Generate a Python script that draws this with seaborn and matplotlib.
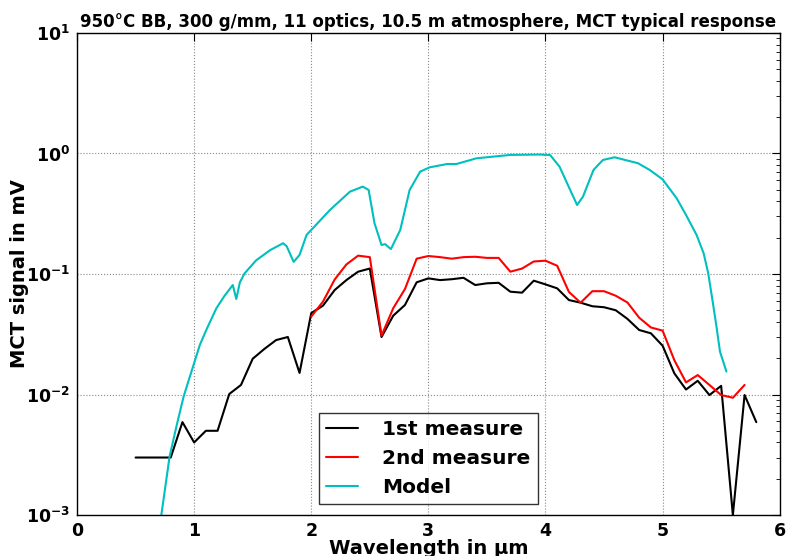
import numpy as np
import pandas as pd
import seaborn as sns
import matplotlib
matplotlib.use("Agg")
import matplotlib.pyplot as plt
from matplotlib.ticker import FuncFormatter, LogLocator, NullFormatter

# 1st measure
wl_1 = [0.5, 0.6, 0.7, 0.8, 0.9, 1.0, 1.1, 1.2, 1.3, 1.4, 1.5, 1.6, 1.7, 1.8, 1.9,
        2.0, 2.1, 2.2, 2.3, 2.4, 2.5, 2.6, 2.7, 2.8, 2.9, 3.0, 3.1, 3.2, 3.3, 3.4,
        3.5, 3.6, 3.7, 3.8, 3.9, 4.0, 4.1, 4.2, 4.3, 4.4, 4.5, 4.6, 4.7, 4.8, 4.9,
        5.0, 5.1, 5.2, 5.3, 5.4, 5.5, 5.6, 5.7, 5.8]
sig_1 = [0.003, 0.003, 0.003, 0.003, 0.0059, 0.0040, 0.0050, 0.0050, 0.0101, 0.012,
         0.0198, 0.0239, 0.0283, 0.030, 0.0151, 0.0474, 0.0546, 0.0736, 0.089, 0.1045,
         0.111, 0.030, 0.0451, 0.0553, 0.0853, 0.092, 0.089, 0.0905, 0.093, 0.081,
         0.0837, 0.0845, 0.0713, 0.070, 0.088, 0.082, 0.076, 0.0608, 0.0578, 0.054,
         0.053, 0.050, 0.0424, 0.0343, 0.0322, 0.0254, 0.015, 0.011, 0.013, 0.0099,
         0.0118, 0.001, 0.0099, 0.0059]

# 2nd measure
wl_2 = [2.0, 2.1, 2.2, 2.3, 2.4, 2.5, 2.6, 2.7, 2.8, 2.9, 3.0, 3.1, 3.2, 3.3, 3.4,
        3.5, 3.6, 3.7, 3.8, 3.9, 4.0, 4.1, 4.2, 4.3, 4.4, 4.5, 4.6, 4.7, 4.8, 4.9,
        5.0, 5.1, 5.2, 5.3, 5.4, 5.5, 5.6, 5.7]
sig_2 = [0.0443, 0.059, 0.090, 0.120, 0.142, 0.138, 0.0308, 0.052, 0.075, 0.134,
         0.141, 0.138, 0.134, 0.138, 0.139, 0.136, 0.136, 0.1045, 0.111, 0.127,
         0.129, 0.117, 0.071, 0.0578, 0.072, 0.072, 0.066, 0.058, 0.0434, 0.036,
         0.0339, 0.0193, 0.0126, 0.0145, 0.012, 0.0099, 0.0094, 0.012]

# Model
wl_m = [0.70, 0.72, 0.79, 0.85, 0.91, 0.99, 1.05, 1.11, 1.19, 1.26, 1.33, 1.36, 1.39,
        1.43, 1.53, 1.65, 1.76, 1.79, 1.85, 1.90, 1.96, 2.00, 2.16, 2.33, 2.44, 2.49,
        2.54, 2.60, 2.63, 2.68, 2.76, 2.84, 2.93, 3.01, 3.16, 3.24, 3.41, 3.70, 3.95,
        4.04, 4.12, 4.21, 4.27, 4.32, 4.41, 4.49, 4.59, 4.79, 4.89, 5.00, 5.12, 5.20,
        5.29, 5.35, 5.39, 5.43, 5.46, 5.49, 5.545]
sig_m = [0.0008, 0.001, 0.00305, 0.0055, 0.0096, 0.017, 0.026, 0.0354, 0.052, 0.066,
         0.081, 0.062, 0.085, 0.101, 0.130, 0.158, 0.180, 0.170, 0.126, 0.144, 0.211,
         0.232, 0.340, 0.482, 0.531, 0.498, 0.264, 0.174, 0.177, 0.161, 0.232, 0.498,
         0.707, 0.767, 0.818, 0.818, 0.912, 0.973, 0.980, 0.970, 0.778, 0.500, 0.374,
         0.438, 0.730, 0.883, 0.930, 0.830, 0.730, 0.610, 0.425, 0.309, 0.211, 0.149,
         0.101, 0.057, 0.0366, 0.0227, 0.0155]

sns.set_style("white")
plt.rcParams["font.family"] = ["DejaVu Sans"]
plt.rcParams["font.weight"] = "bold"
for k in ["text.color", "axes.labelcolor", "xtick.color", "ytick.color"]:
    plt.rcParams[k] = "black"

fig = plt.figure(figsize=(7.86, 5.56), dpi=100)
ax = fig.add_axes([0.098, 0.0737, 0.894, 0.867])

sns.lineplot(x=wl_1, y=sig_1, color="k", lw=1.5, label="1st measure", ax=ax)
sns.lineplot(x=wl_2, y=sig_2, color="#ff0000", lw=1.5, label="2nd measure", ax=ax)
sns.lineplot(x=wl_m, y=sig_m, color="#00bfbf", lw=1.5, label="Model", ax=ax)

ax.set_yscale("log")
ax.set_xlim(0, 6)
ax.set_ylim(1e-3, 10)
ax.yaxis.set_major_locator(LogLocator(base=10, numticks=10))
ax.yaxis.set_minor_locator(LogLocator(base=10, subs=np.arange(2, 10), numticks=20))
ax.yaxis.set_minor_formatter(NullFormatter())
ax.yaxis.set_major_formatter(
    FuncFormatter(lambda v, p: r"$\mathbf{10^{%d}}$" % round(np.log10(v))))

ax.grid(True, which="major", linestyle=":", color="#888888", lw=0.8)
ax.tick_params(which="both", direction="in", top=True, right=True, labelsize=12.5)
ax.tick_params(which="major", length=6, pad=5)
ax.tick_params(which="minor", length=3)
for lab in ax.get_xticklabels():
    lab.set_fontweight("bold")
for s in ax.spines.values():
    s.set_color("black")
    s.set_linewidth(1.0)

ax.set_xlabel("Wavelength in µm", fontsize=14, fontweight="bold", labelpad=-1)
ax.set_ylabel("MCT signal in mV", fontsize=14, fontweight="bold")
ax.yaxis.set_label_coords(-0.068, 0.5)
ax.set_title("950°C BB, 300 g/mm, 11 optics, 10.5 m atmosphere, MCT typical response",
             fontsize=12, fontweight="bold", pad=4)

leg = ax.legend(loc="lower center", bbox_to_anchor=(0.5, 0.0), frameon=True,
                fancybox=False, prop={"size": 14.5, "weight": "bold"},
                handlelength=1.6, handletextpad=1.2, borderpad=0.35,
                labelspacing=0.5, borderaxespad=0.55)
leg.get_frame().set_edgecolor("black")
leg.get_frame().set_linewidth(1.0)

fig.savefig("out.png", dpi=100)
